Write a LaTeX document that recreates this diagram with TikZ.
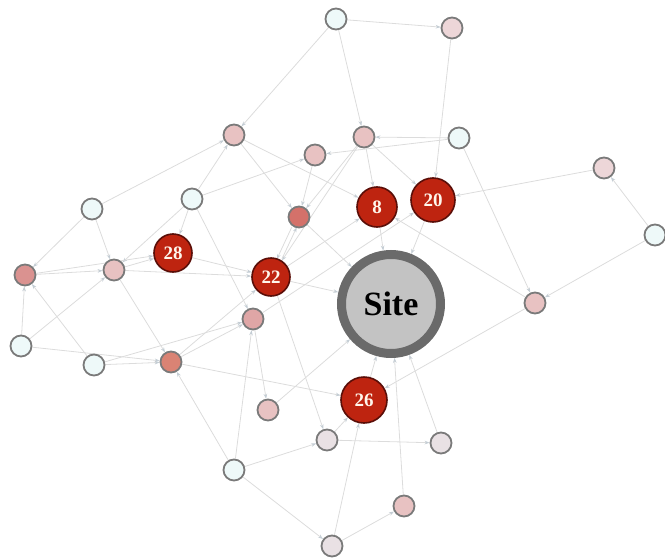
\documentclass[tikz,border=0pt]{standalone}
\usepackage{fontspec}
\setmainfont{Liberation Serif}
\usetikzlibrary{arrows.meta,backgrounds}

\definecolor{ndline}{HTML}{7A7A7A}
\definecolor{hotline}{HTML}{5A0E08}
\definecolor{hotfill}{HTML}{BE2410}
\definecolor{hottext}{HTML}{FFF6EC}
\definecolor{linkc}{HTML}{DCDCDC}
\definecolor{tipc}{HTML}{C4CDD4}
\definecolor{cold}{HTML}{EEF9F9}
\definecolor{pale}{HTML}{E9E1E4}
\definecolor{blush}{HTML}{EDD6D8}
\definecolor{rose}{HTML}{E8C2C2}
\definecolor{rosedeep}{HTML}{DFA6A6}
\definecolor{salmon}{HTML}{DA9290}
\definecolor{coral}{HTML}{DA8374}
\definecolor{brick}{HTML}{D4716A}
\definecolor{sitefill}{HTML}{C3C3C3}
\definecolor{siteline}{HTML}{6A6A6A}

\tikzset{
  nd/.style={circle, draw=ndline, line width=1.8pt, minimum size=21pt, inner sep=0pt},
  hot/.style={circle, draw=hotline, fill=hotfill, line width=1.6pt, inner sep=0pt,
    text=hottext, font=\fontsize{19}{19}\selectfont\bfseries},
  hub/.style={circle, draw=siteline, fill=sitefill, line width=9pt, minimum size=99pt,
    inner sep=0pt, font=\fontsize{34}{34}\selectfont\bfseries},
  link/.style={draw=linkc, line width=0.8pt, -{Stealth[length=5pt,width=3.6pt,color=tipc]}},
}

\begin{document}
\begin{tikzpicture}[x=1pt,y=-1pt]
\useasboundingbox (0,0) rectangle (665,560);

% outer ring of plain nodes
\node[nd, fill=cold]     (A) at (336,19)  {};
\node[nd, fill=blush]    (B) at (452,28)  {};
\node[nd, fill=rose]     (C) at (234,135) {};
\node[nd, fill=rose]     (D) at (315,155) {};
\node[nd, fill=rose]     (E) at (364,137) {};
\node[nd, fill=cold]     (F) at (459,138) {};
\node[nd, fill=blush]    (G) at (604,168) {};
\node[nd, fill=cold]     (H) at (655,235) {};
\node[nd, fill=cold]     (I) at (92,209)  {};
\node[nd, fill=cold]     (J) at (192,199) {};
\node[nd, fill=brick]    (K) at (299,217) {};
\node[nd, fill=salmon]   (L) at (25,275)  {};
\node[nd, fill=rose]     (M) at (114,270) {};
\node[nd, fill=rose]     (N) at (535,303) {};
\node[nd, fill=rosedeep] (O) at (253,319) {};
\node[nd, fill=cold]     (P) at (21,346)  {};
\node[nd, fill=cold]     (Q) at (94,365)  {};
\node[nd, fill=coral]    (R) at (171,362) {};
\node[nd, fill=rose]     (S) at (268,410) {};
\node[nd, fill=pale]     (T) at (327,440) {};
\node[nd, fill=pale]     (U) at (441,443) {};
\node[nd, fill=cold]     (V) at (234,470) {};
\node[nd, fill=rose]     (W) at (404,506) {};
\node[nd, fill=pale]     (X) at (332,546) {};

% highlighted nodes
\node[hot, minimum size=40pt] (n8)  at (377,207) {8};
\node[hot, minimum size=44pt] (n20) at (433,200) {20};
\node[hot, minimum size=38pt] (n28) at (173,253) {28};
\node[hot, minimum size=38pt] (n22) at (271,277) {22};
\node[hot, minimum size=46pt] (n26) at (364,400) {26};

% central node
\node[hub] (site) at (391,304) {Site};

\begin{scope}[on background layer]
  \foreach \a/\b in {
    A/C, A/B, A/E, B/n20, F/E, F/D, F/N, G/n20, H/G, H/N,
    N/n26, N/n8, E/n8, E/n20, E/K, E/n22, n8/site, n20/site,
    C/n8, C/K, I/C, J/C, J/D, J/n28, J/O, J/M,
    I/L, I/M, L/M, L/n28, P/L, P/M, Q/L, P/R, Q/R, Q/O, M/R, M/n28, M/n22,
    n28/n22, R/n22, R/O, R/n26, D/K, K/site, n22/site, n22/n8, n22/T,
    O/n20, O/S, S/site, V/O, V/R, V/T, V/X, X/n26, X/W, W/site,
    U/site, T/U, T/n26, n26/site}
    \path[link] (\a) -- (\b);
  % the two opposite links between K and 22 run side by side
  \path[link, transform canvas={xshift=-2.5pt}] (K) -- (n22);
  \path[link, transform canvas={xshift=2.5pt}] (n22) -- (K);
\end{scope}
\end{tikzpicture}
\end{document}
